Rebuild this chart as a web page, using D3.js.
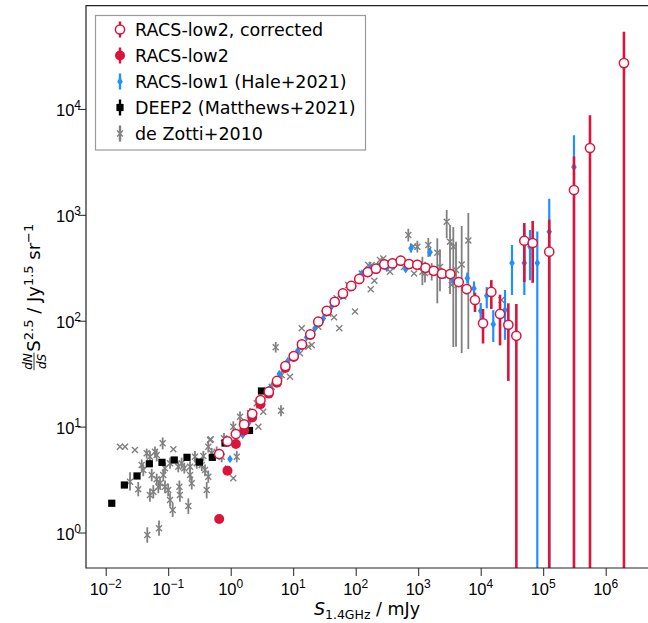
<!DOCTYPE html>
<html>
<head>
<meta charset="utf-8">
<script src="https://cdn.jsdelivr.net/npm/d3@7"></script>
<style>
  body { margin: 0; background: #fff; }
  svg { display: block; font-family: "DejaVu Sans", sans-serif; }
</style>
</head>
<body>
<div id="chart"></div>
<script>
// RACS-low2, corrected (open circles) - S in mJy, y in Jy^1.5 sr^-1
const corrS = [0.655, 0.889, 1.21, 1.64, 2.21, 3.0, 4.07, 5.51, 7.5, 10.2, 13.8, 18.8, 25.2, 34.4, 46.1,
  62.6, 85, 114, 156, 211, 287, 388, 525, 713, 968, 1310, 1770, 2400, 3265, 4450, 5970, 8110, 10900,
  14800, 20400, 27700, 37200, 49900, 67900, 125000, 311000, 561000, 1960000];
const corrY = [5.51, 7.26, 8.51, 10.5, 13.2, 17.8, 21.4, 27.0, 37.3, 46.4, 59.8, 74.4, 97.9, 124, 151,
  181, 213, 248, 288, 310, 341, 348, 369, 343, 338, 316, 296, 278, 276, 232, 199, 157, 94.5,
  187, 116, 91.6, 72.1, 569, 542, 449, 1714, 4277, 27100];
// error bar ends (0 = lower end below the axis), null = hidden under marker
const corrLo = [null, null, null, null, null, null, null, null, null, null, null, null, null, null, null,
  null, null, null, null, null, null, null, null, null, null, null, null, null, null, 215, 178, 121, 60.9,
  129, 58.5, 27, 0, 232, 228, 0, 0, 0, 0];
const corrHi = [null, null, null, null, null, null, null, null, null, null, null, null, null, null, null,
  null, null, null, null, null, null, null, null, null, null, null, null, null, null, 250, 221, 184, 129,
  242, 176, 146, 144, 837, 874, 903, 3550, 8710, 53600];

// RACS-low2 (filled circles)
const lowS = [0.655, 0.889, 1.21, 1.64, 2.21, 3.0, 4.07, 5.51, 7.5, 10.2, 13.8, 18.8, 25.2, 34.4, 46.1,
  62.6, 85, 114, 156, 211, 287, 388, 525, 713, 968, 1310, 1770, 2400, 3265];
const lowY = [1.34, 3.83, 6.85, 9.2, 12.2, 16.3, 20.5, 26.0, 35.8, 45.5, 59, 73.5, 97, 123, 150,
  180, 212, 247, 287, 308, 340, 347, 368, 342, 337, 315, 295, 277, 275];

// RACS-low1 (Hale+2021)
const haleS = [0.83, 0.975, 1.56, 1.94, 3.13, 4.28, 6.0, 8.2, 11.8, 16.4, 22.3, 30.3, 41.8, 58, 81,
  125, 170, 225, 315, 410, 631, 767, 1545, 2000, 2700, 3500, 6110, 7820, 10000, 12500, 15900,
  24500, 31700, 49900, 61500, 80500, 125000, 311000];
const haleY = [3.98, 4.94, 8.33, 10.8, 16.7, 23.2, 31.4, 41.7, 52.1, 69.7, 85, 105, 138, 171, 204,
  280, 315, 329, 315, 329, 306, 483, 443, 301, 270, 253, 252, 202, 124, 172, 92.5,
  126, 351, 351, 500, 351, 692, 2830];
const haleLo = [null, null, null, null, null, null, null, null, null, null, null, null, null, null, null,
  null, null, null, null, null, null, 440, 405, null, null, 225, 225, 175, 102, 131, 63,
  66, 175, 175, 241, 0, 0, 0];
const haleHi = [null, null, null, null, null, null, null, null, null, null, null, null, null, null, null,
  null, null, null, null, null, null, 530, 485, null, null, 285, 285, 235, 147, 208, 126,
  195, 518, 735, 720, 697, 1418, 5630];

// DEEP2 (Matthews+2021)
const deepS = [0.0125, 0.0199, 0.0317, 0.0499, 0.0796, 0.125, 0.2, 0.315, 0.508, 0.811, 2.0, 3.11];
const deepY = [1.89, 2.81, 3.42, 4.46, 4.6, 4.84, 5.13, 4.63, 5.13, 7.0, 9.2, 21.7];

// de Zotti+2010 compilation: [S, y, lower, upper]
const zottiRows = [
  [0.0169, 6.46], [0.0204, 6.46], [0.0294, 6.01], [0.0453, 5.6, 5.0, 6.2], [0.0615, 5.8, 5.1, 6.5],
  [0.0816, 6.95, 6.1, 7.9], [0.121, 6.1], [0.0511, 5.2, 4.6, 5.9], [0.0655, 5.39, 4.7, 6.1],
  [0.0377, 4.34, 3.8, 4.9], [0.04, 3.89, 3.4, 4.4], [0.0545, 3.49, 3.05, 4.0], [0.0655, 3.18, 2.8, 3.6],
  [0.0835, 3.49, 3.05, 4.0], [0.074, 2.92, 2.55, 3.35], [0.0889, 2.71, 2.35, 3.1], [0.1, 2.52, 2.2, 2.9],
  [0.0245, 3.02, 2.5, 3.7], [0.0332, 2.56, 2.2, 3.0], [0.0511, 2.26, 1.95, 2.6], [0.0578, 2.43, 2.1, 2.8],
  [0.0695, 2.71, 2.35, 3.1], [0.107, 2.03, 1.75, 2.35], [0.151, 2.71, 2.35, 3.1], [0.154, 2.26, 1.95, 2.6],
  [0.145, 4.18, 3.7, 4.7], [0.164, 4.5, 4.0, 5.1], [0.238, 2.92, 2.55, 3.35], [0.224, 4.18, 3.7, 4.7],
  [0.286, 4.5, 4.0, 5.1], [0.268, 5.2, 4.6, 5.9], [0.344, 4.34, 3.8, 4.9], [0.388, 3.89, 3.4, 4.4],
  [0.438, 3.37, 2.95, 3.85], [0.413, 2.52, 2.1, 3.0], [0.438, 6.46, 5.7, 7.3], [0.467, 7.47],
  [0.497, 5.6, 5.0, 6.3], [0.597, 5.8, 5.2, 6.5], [0.718, 5.2, 4.6, 5.9], [1.1, 3.25], [1.25, 5.2, 4.6, 5.9],
  [0.118, 1.63, 1.4, 1.9], [0.21, 1.78, 1.5, 2.1], [0.0463, 0.946, 0.8, 1.12], [0.0713, 1.1, 0.93, 1.3],
  [0.0889, 4.04, 3.6, 4.55], [0.107, 4.5, 4.0, 5.1], [0.181, 4.04, 3.6, 4.55], [0.224, 3.49, 3.1, 3.95],
  [0.365, 5.28, 4.7, 5.9], [0.782, 7.76, 6.9, 8.7], [1.1, 9.98, 8.9, 11.2], [1.41, 12.4, 11.1, 13.9],
  [2.04, 13.4, 12.0, 15.0], [2.61, 16.6, 14.8, 18.6], [4.53, 23.8, 21.5, 26.3], [6.55, 30.7, 28, 33.6],
  [12.8, 49.2], [17.5, 56.8], [19.8, 59], [25.2, 87.7], [36.5, 117], [45, 108], [49.6, 163], [63.4, 169],
  [76.2, 217], [125, 280], [180, 336], [245, 374], [277, 388], [354, 290], [174, 198], [199, 239],
  [97.5, 122], [54.7, 84.8], [13.7, 84.8], [5.25, 56.1, 50, 63], [6.38, 14.1, 12.5, 15.9], [8.89, 29.6],
  [3.32, 13.8], [2.77, 9.98], [0.479, 7.59], [159, 336], [695, 645, 560, 740], [859, 280],
  [970, 500, 440, 570], [1167, 290, 217, 402], [1451, 518, 400, 604], [1644, 290, 240, 350],
  [2022, 439, 146, 600], [2858, 861, 600, 1110], [3228, 557, 179, 801], [3648, 500, 56.5, 767],
  [4030, 301, 56.8, 557], [4966, 340, 49.5, 784], [6340, 572, 54, 1040], [3432, 217],
  [2233, 321, 190, 470], [1285, 282, 230, 360], [593, 321], [835, 505], [21500, 157]
];

const xDecades = [-2, -1, 0, 1, 2, 3, 4, 5, 6];
const yDecades = [0, 1, 2, 3, 4];

(() => {
  const width = 648, height = 623;
  const left = 86, top = 5.7, bottom = 568;

  const red = "#dc143c", blue = "#1e90ff", grey = "#808080";

  const x = d3.scaleLog()
    .domain([Math.pow(10, -2.315), Math.pow(10, 6.75)])
    .range([left, left + 9.065 * 62.5]);
  const y = d3.scaleLog()
    .domain([Math.pow(10, -0.335), Math.pow(10, 4.975)])
    .range([bottom, top]);

  const svg = d3.select("#chart").append("svg")
    .attr("width", width)
    .attr("height", height);

  svg.append("rect").attr("width", width).attr("height", height).attr("fill", "#fff");

  svg.append("clipPath").attr("id", "plot-clip")
    .append("rect")
    .attr("x", left).attr("y", top)
    .attr("width", width - left + 10).attr("height", bottom - top);

  const plot = svg.append("g").attr("clip-path", "url(#plot-clip)");

  const yEnd = v => (v <= 0 ? bottom + 5 : y(v));

  function errBars(g, rows, color, w) {
    g.selectAll(null)
      .data(rows.filter(d => d.lo != null))
      .join("line")
      .attr("x1", d => x(d.s)).attr("x2", d => x(d.s))
      .attr("y1", d => yEnd(d.lo)).attr("y2", d => y(d.hi))
      .attr("stroke", color)
      .attr("stroke-width", w);
  }

  // de Zotti+2010
  const zotti = zottiRows.map(r => ({ s: r[0], v: r[1], lo: r.length > 2 ? r[2] : null, hi: r.length > 2 ? r[3] : null }));
  const gZ = plot.append("g");
  errBars(gZ, zotti, grey, 1.8);
  gZ.selectAll("path")
    .data(zotti)
    .join("path")
    .attr("transform", d => `translate(${x(d.s)},${y(d.v)})`)
    .attr("d", "M-3,-3L3,3M-3,3L3,-3")
    .attr("stroke", grey)
    .attr("stroke-width", 1.4)
    .attr("fill", "none");

  // DEEP2
  const deep = deepS.map((s, i) => ({ s, v: deepY[i] }));
  plot.append("g").selectAll("rect")
    .data(deep)
    .join("rect")
    .attr("x", d => x(d.s) - 3.6).attr("y", d => y(d.v) - 3.6)
    .attr("width", 7.2).attr("height", 7.2)
    .attr("fill", "#000");

  // RACS-low1
  const hale = haleS.map((s, i) => ({ s, v: haleY[i], lo: haleLo[i], hi: haleHi[i] }));
  const gH = plot.append("g");
  errBars(gH, hale, blue, 2.2);
  gH.selectAll("path")
    .data(hale)
    .join("path")
    .attr("transform", d => `translate(${x(d.s)},${y(d.v)})`)
    .attr("d", "M0,-4.2L2.8,0L0,4.2L-2.8,0Z")
    .attr("fill", blue);

  // RACS-low2
  const low = lowS.map((s, i) => ({ s, v: lowY[i] }));
  plot.append("g").selectAll("circle")
    .data(low)
    .join("circle")
    .attr("cx", d => x(d.s)).attr("cy", d => y(d.v))
    .attr("r", 5)
    .attr("fill", red);

  // RACS-low2, corrected
  const corr = corrS.map((s, i) => ({ s, v: corrY[i], lo: corrLo[i], hi: corrHi[i] }));
  const gC = plot.append("g");
  errBars(gC, corr, red, 2.6);
  gC.selectAll("circle")
    .data(corr)
    .join("circle")
    .attr("cx", d => x(d.s)).attr("cy", d => y(d.v))
    .attr("r", 4.6)
    .attr("fill", "#fff")
    .attr("stroke", red)
    .attr("stroke-width", 1.5);

  // axes
  const minorVals = (lo, hi) => {
    const out = [];
    for (let e = lo; e <= hi; e++) for (let m = 2; m <= 9; m++) out.push(m * Math.pow(10, e));
    return out;
  };
  const xMinor = minorVals(-3, 6).filter(v => x(v) >= left && x(v) <= width);
  const yMinor = minorVals(-1, 4).filter(v => y(v) <= bottom && y(v) >= top);
  const sup = e => (e < 0 ? "\u2212" + Math.abs(e) : String(e));

  const gx = svg.append("g").attr("transform", `translate(0,${bottom})`);
  gx.call(d3.axisBottom(x).tickValues(xMinor).tickSize(5).tickFormat(""));
  gx.call(d3.axisBottom(x).tickValues(xDecades.map(e => Math.pow(10, e))).tickSize(8).tickFormat(""));
  gx.selectAll(".domain").remove();
  gx.selectAll(".tick line").attr("stroke", "#222").attr("stroke-width", 1);
  gx.selectAll(".tick text").remove();
  xDecades.forEach(e => {
    const t = gx.append("text")
      .attr("x", x(Math.pow(10, e)))
      .attr("y", 27)
      .attr("text-anchor", "middle")
      .attr("font-size", 16.5)
      .attr("fill", "#000")
      .text("10");
    t.append("tspan").attr("dy", -7.5).attr("font-size", 12).text(sup(e));
  });

  const gy = svg.append("g").attr("transform", `translate(${left},0)`);
  gy.call(d3.axisLeft(y).tickValues(yMinor).tickSize(5).tickFormat(""));
  gy.call(d3.axisLeft(y).tickValues(yDecades.map(e => Math.pow(10, e))).tickSize(8).tickFormat(""));
  gy.selectAll(".domain").remove();
  gy.selectAll(".tick line").attr("stroke", "#222").attr("stroke-width", 1);
  gy.selectAll(".tick text").remove();
  yDecades.forEach(e => {
    const t = gy.append("text")
      .attr("x", -5)
      .attr("y", y(Math.pow(10, e)) + 7.5)
      .attr("text-anchor", "end")
      .attr("font-size", 16.5)
      .attr("fill", "#000")
      .text("10");
    t.append("tspan").attr("dy", -7.5).attr("font-size", 12).text(sup(e));
  });

  // spines (right one falls outside the picture)
  svg.append("path")
    .attr("d", `M${width + 2},${top}H${left}V${bottom}H${width + 2}`)
    .attr("fill", "none")
    .attr("stroke", "#222")
    .attr("stroke-width", 1.2);

  // x label
  const xl = svg.append("text")
    .attr("x", (left + width) / 2)
    .attr("y", 615)
    .attr("text-anchor", "middle")
    .attr("font-size", 17.5)
    .attr("fill", "#000");
  xl.append("tspan").attr("font-style", "italic").text("S");
  xl.append("tspan").attr("dy", 4).attr("font-size", 12.5).text("1.4GHz");
  xl.append("tspan").attr("dy", -4).text(" / mJy");

  // y label
  const yl = svg.append("g").attr("transform", "translate(40,297) rotate(-90)");
  const frac = yl.append("g");
  const num = frac.append("text").attr("font-size", 12).attr("font-style", "italic").attr("y", -8.5).attr("text-anchor", "middle").text("dN");
  const den = frac.append("text").attr("font-size", 12).attr("font-style", "italic").attr("y", 5.5).attr("text-anchor", "middle").text("dS");
  const fw = Math.max(num.node().getComputedTextLength(), den.node().getComputedTextLength()) + 1;
  frac.append("line").attr("x1", -fw / 2).attr("x2", fw / 2).attr("y1", -6).attr("y2", -6)
    .attr("stroke", "#000").attr("stroke-width", 0.8);
  const main = yl.append("text").attr("font-size", 18).attr("fill", "#000");
  main.append("tspan").text("S");
  main.append("tspan").attr("dy", -7.5).attr("font-size", 13).text("2.5");
  main.append("tspan").attr("dy", 7.5).text(" / Jy");
  main.append("tspan").attr("dy", -7.5).attr("font-size", 13).text("1.5");
  main.append("tspan").attr("dy", 7.5).text(" sr");
  main.append("tspan").attr("dy", -7.5).attr("font-size", 13).text("\u22121");
  const mw = main.node().getComputedTextLength();
  const total = fw + 1 + mw;
  frac.attr("transform", `translate(${-total / 2 + fw / 2},0)`);
  main.attr("x", -total / 2 + fw + 1);

  // legend
  const legend = svg.append("g");
  legend.append("rect")
    .attr("x", 95.5).attr("y", 15.5)
    .attr("width", 270).attr("height", 134.5)
    .attr("fill", "#fff")
    .attr("stroke", "#999")
    .attr("stroke-width", 1.2);

  const items = [
    { label: "RACS-low2, corrected", kind: "open" },
    { label: "RACS-low2", kind: "filled" },
    { label: "RACS-low1 (Hale+2021)", kind: "diamond" },
    { label: "DEEP2 (Matthews+2021)", kind: "square" },
    { label: "de Zotti+2010", kind: "x" }
  ];
  items.forEach((it, i) => {
    const cy = 29.5 + i * 26;
    const g = legend.append("g").attr("transform", `translate(120,${cy})`);
    const col = { open: red, filled: red, diamond: blue, square: "#000", x: grey }[it.kind];
    g.append("line").attr("y1", -8).attr("y2", 8).attr("stroke", col).attr("stroke-width", 2.4);
    if (it.kind === "open") g.append("circle").attr("r", 4.6).attr("fill", "#fff").attr("stroke", red).attr("stroke-width", 1.5);
    if (it.kind === "filled") g.append("circle").attr("r", 5).attr("fill", red);
    if (it.kind === "diamond") g.append("path").attr("d", "M0,-4.2L2.8,0L0,4.2L-2.8,0Z").attr("fill", blue);
    if (it.kind === "square") g.append("rect").attr("x", -3.6).attr("y", -3.6).attr("width", 7.2).attr("height", 7.2).attr("fill", "#000");
    if (it.kind === "x") g.append("path").attr("d", "M-3,-3L3,3M-3,3L3,-3").attr("stroke", grey).attr("stroke-width", 1.4);
    legend.append("text")
      .attr("x", 135)
      .attr("y", cy + 6.5)
      .attr("font-size", 17.5)
      .attr("fill", "#000")
      .text(it.label);
  });
})();
</script>
</body>
</html>
